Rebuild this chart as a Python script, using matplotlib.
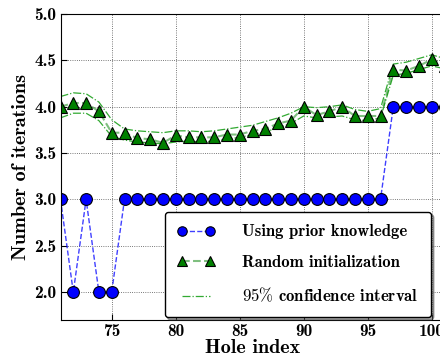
import numpy as np
import matplotlib
matplotlib.use("Agg")
import matplotlib.pyplot as plt

plt.rcParams['font.family'] = ['cmb10', 'DejaVu Serif']
plt.rcParams['mathtext.fontset'] = 'cm'
plt.rcParams['axes.unicode_minus'] = False

# hole index 71..101
holes = list(range(71, 102))

prior = [3, 2, 3, 2, 2, 3, 3, 3, 3, 3, 3, 3, 3, 3, 3, 3, 3, 3, 3, 3,
         3, 3, 3, 3, 3, 3, 4, 4, 4, 4, 4]

random_init = [4.00, 4.04, 4.04, 3.95, 3.72, 3.72, 3.66, 3.65, 3.61, 3.69,
               3.67, 3.67, 3.67, 3.70, 3.70, 3.74, 3.76, 3.82, 3.85, 4.00,
               3.91, 3.95, 4.00, 3.90, 3.90, 3.90, 4.40, 4.39, 4.44, 4.51,
               4.44]

ci_upper = [4.11, 4.15, 4.14, 4.05, 3.86, 3.76, 3.74, 3.73, 3.72, 3.74,
            3.74, 3.73, 3.74, 3.76, 3.78, 3.80, 3.84, 3.88, 3.93, 4.00,
            3.99, 4.00, 4.02, 3.97, 3.95, 3.98, 4.46, 4.48, 4.52, 4.56,
            4.52]

ci_lower = [3.88, 3.93, 3.93, 3.85, 3.68, 3.64, 3.62, 3.61, 3.60, 3.62,
            3.63, 3.62, 3.63, 3.65, 3.67, 3.70, 3.73, 3.77, 3.82, 3.90,
            3.88, 3.89, 3.90, 3.86, 3.85, 3.88, 4.34, 4.36, 4.40, 4.44,
            4.41]

fig = plt.figure(figsize=(4.4, 3.58), dpi=100)
ax = fig.add_axes([60.5 / 440, 1 - 320 / 358, 384 / 440, 306 / 358])

ax.plot(holes, ci_upper, color='#33aa33', linestyle='-.', linewidth=0.9,
        label=r'$95\%$ confidence interval')
ax.plot(holes, ci_lower, color='#33aa33', linestyle='-.', linewidth=0.9)
# faded line colour, opaque markers
ax.plot(holes, prior, color=(0, 0, 1, 0.75), linestyle='--', linewidth=1,
        marker='o', markersize=8.5, markerfacecolor='blue',
        markeredgecolor='k', markeredgewidth=0.8,
        label='Using prior knowledge')
ax.plot(holes, random_init, color=(0, 0.5, 0, 0.5), linestyle='--',
        linewidth=1.5, marker='^', markersize=8.5, markerfacecolor='green',
        markeredgecolor='k', markeredgewidth=0.8,
        label='Random initialization')

ax.set_xlim(71, 101)
ax.set_ylim(1.7, 5.0)
ax.set_xticks([75, 80, 85, 90, 95, 100])
ax.set_yticks([2.0, 2.5, 3.0, 3.5, 4.0, 4.5, 5.0])
ax.set_yticklabels(['2.0', '2.5', '3.0', '3.5', '4.0', '4.5', '5.0'])
ax.tick_params(labelsize=12.5, direction='in', length=4, pad=3)
ax.grid(True, color='k', linestyle=':', linewidth=0.6, alpha=0.7)

ax.set_xlabel('Hole index', fontsize=14.5, labelpad=0)
ax.set_ylabel('Number of iterations', fontsize=14.5, labelpad=3)

handles, labels = ax.get_legend_handles_labels()
order = [1, 2, 0]
leg = ax.legend([handles[i] for i in order], [labels[i] for i in order],
                loc='lower right', bbox_to_anchor=(431 / 440, 1 - 317 / 358),
                bbox_transform=fig.transFigure, borderaxespad=0,
                numpoints=2, markerscale=0.8, fancybox=True, shadow=True,
                fontsize=12, labelspacing=0.95, borderpad=0.75,
                handlelength=2.3, handletextpad=1.6, framealpha=1)
leg.get_frame().set_edgecolor('k')
leg.get_frame().set_linewidth(1.0)

fig.savefig('out.png', dpi=100)
